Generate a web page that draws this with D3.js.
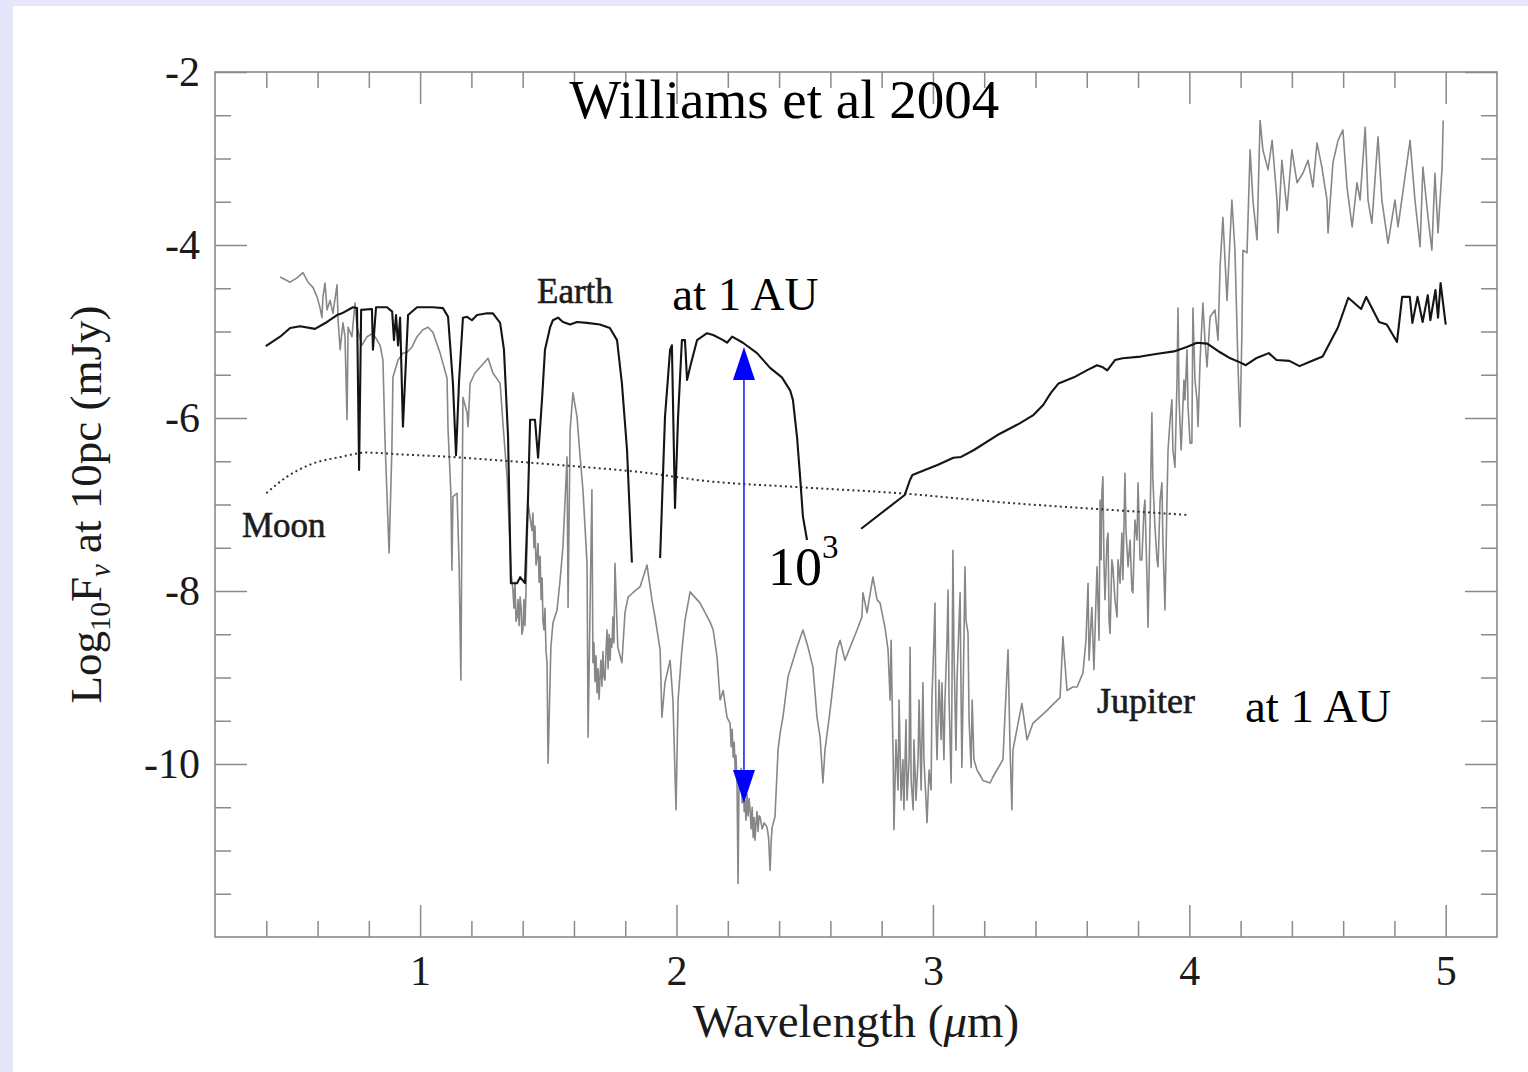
<!DOCTYPE html>
<html>
<head>
<meta charset="utf-8">
<script src="https://cdn.jsdelivr.net/npm/d3@7"></script>
<style>
  body { margin: 0; background: #e6e6fa; }
  svg { display: block; }
</style>
</head>
<body>
<svg id="chart" width="1528" height="1072"></svg>
<script>
// ---- Spectra: wavelength (micron) and log10 F_nu at 10 pc (mJy) ----

// Earth, visible to H band (ends in the 1.87 micron water band)
const earthVisWl = [0.398,0.454,0.493,0.532,0.590,0.637,0.676,0.695,0.738,0.754,0.762,0.770,0.812,0.816,0.828,0.871,0.891,0.898,0.906,0.914,0.922,0.933,0.953,0.988,1.050,1.089,1.109,1.128,1.140,1.152,1.167,1.183,1.202,1.222,1.261,1.284,1.312,1.327,1.343,1.354,1.378,1.390,1.409,1.421,1.429,1.448,1.460,1.476,1.487,1.507,1.518,1.538,1.557,1.585,1.612,1.651,1.701,1.740,1.768,1.787,1.807,1.826];
const earthVisFlux = [-5.17,-5.06,-4.96,-4.94,-4.97,-4.89,-4.81,-4.79,-4.72,-4.73,-6.60,-4.75,-4.74,-5.21,-4.72,-4.72,-4.77,-5.10,-4.81,-5.16,-4.84,-6.10,-4.81,-4.72,-4.72,-4.73,-4.83,-5.60,-6.43,-5.56,-4.84,-4.83,-4.87,-4.81,-4.79,-4.79,-4.90,-5.21,-6.22,-7.91,-7.91,-7.84,-7.91,-6.91,-6.02,-6.02,-6.46,-5.76,-5.21,-4.95,-4.87,-4.84,-4.89,-4.92,-4.89,-4.90,-4.92,-4.96,-5.10,-5.60,-6.37,-7.67];

// Earth, K band
const earthKWl = [1.936,1.955,1.975,1.982,1.994,2.006,2.021,2.033,2.041,2.053,2.080,2.119,2.143,2.182,2.197,2.217,2.259,2.314,2.365,2.411,2.443,2.454,2.470,2.482,2.493,2.509];
const earthKFlux = [-7.62,-5.99,-5.21,-5.16,-7.04,-5.99,-5.10,-5.10,-5.56,-5.41,-5.10,-5.02,-5.04,-5.10,-5.13,-5.06,-5.13,-5.25,-5.42,-5.53,-5.68,-5.79,-6.22,-6.68,-7.14,-7.41];

// Earth, thermal IR
const earthMirWl = [2.72,2.89,2.91,2.92,3.02,3.08,3.11,3.16,3.25,3.34,3.39,3.43,3.46,3.49,3.55,3.60,3.64,3.66,3.68,3.71,3.74,3.81,3.87,3.94,3.99,4.03,4.07,4.12,4.16,4.20,4.22,4.26,4.31,4.34,4.39,4.43,4.47,4.52,4.58,4.62,4.67,4.69,4.74,4.77,4.81,4.83,4.86,4.87,4.89,4.91,4.93,4.94,4.96,4.97,4.98,5.00];
const earthMirFlux = [-7.28,-6.89,-6.72,-6.66,-6.54,-6.46,-6.45,-6.37,-6.20,-6.06,-5.97,-5.85,-5.71,-5.60,-5.53,-5.45,-5.39,-5.41,-5.45,-5.33,-5.31,-5.29,-5.26,-5.23,-5.18,-5.13,-5.14,-5.24,-5.31,-5.36,-5.39,-5.31,-5.25,-5.33,-5.34,-5.40,-5.35,-5.29,-4.95,-4.61,-4.74,-4.60,-4.89,-4.92,-5.12,-4.60,-4.60,-4.90,-4.60,-4.89,-4.58,-4.87,-4.52,-4.84,-4.44,-4.92];

// Moon
const moonWl = [0.40,0.48,0.57,0.69,0.79,0.92,1.12,1.31,1.57,1.90,2.09,2.48,2.87,3.29,3.68,3.99];
const moonFlux = [-6.87,-6.68,-6.54,-6.45,-6.40,-6.42,-6.45,-6.49,-6.55,-6.64,-6.72,-6.80,-6.87,-6.98,-7.06,-7.12];

// Jupiter, [wavelength, log flux] by band
const jupiterOptical = [[0.454,-4.37],[0.493,-4.43],[0.520,-4.38],[0.543,-4.32],[0.563,-4.43],[0.582,-4.49],[0.598,-4.60],[0.610,-4.73],[0.617,-4.84],[0.621,-4.60],[0.629,-4.44],[0.637,-4.75],[0.649,-4.64],[0.660,-4.79],[0.676,-4.46],[0.680,-4.87],[0.688,-5.21],[0.699,-4.90],[0.707,-5.06],[0.715,-6.02],[0.719,-4.95],[0.734,-5.06],[0.746,-4.67],[0.754,-4.95],[0.773,-5.16],[0.793,-5.06],[0.816,-5.02],[0.844,-5.16],[0.855,-5.33],[0.863,-6.25],[0.879,-7.56],[0.890,-6.34],[0.894,-5.53],[0.914,-5.33],[0.933,-5.25],[0.949,-5.24],[0.968,-5.18],[0.988,-5.06],[1.011,-4.98],[1.031,-4.95],[1.050,-5.01],[1.078,-5.25],[1.105,-5.54],[1.109,-6.14],[1.120,-6.87],[1.124,-7.76],[1.128,-6.91],[1.144,-6.87],[1.152,-7.68],[1.159,-9.03],[1.163,-7.30],[1.167,-5.76],[1.183,-5.94],[1.187,-6.10],[1.195,-5.60],[1.214,-5.48],[1.241,-5.39],[1.265,-5.31],[1.284,-5.48],[1.312,-5.60],[1.323,-6.06]];
const jupiterJH = [[1.339,-6.68],[1.351,-7.49],[1.355,-7.80],[1.362,-7.99],[1.366,-8.20],[1.370,-7.90],[1.374,-8.35],[1.378,-8.30],[1.382,-8.10],[1.386,-8.40],[1.390,-8.07],[1.394,-8.20],[1.397,-8.50],[1.401,-8.45],[1.405,-8.10],[1.409,-8.40],[1.413,-7.99],[1.421,-6.98],[1.436,-7.30],[1.440,-7.10],[1.444,-7.50],[1.448,-7.25],[1.452,-7.70],[1.456,-7.61],[1.460,-7.45],[1.464,-7.90],[1.468,-7.60],[1.472,-8.10],[1.476,-7.85],[1.479,-8.34],[1.483,-8.45],[1.487,-8.20],[1.491,-8.70],[1.495,-8.83],[1.499,-9.99],[1.510,-8.65],[1.518,-8.37],[1.534,-8.22],[1.546,-7.87],[1.557,-7.49],[1.573,-6.45],[1.577,-8.19],[1.585,-6.14],[1.596,-5.71],[1.612,-5.99],[1.624,-6.45],[1.635,-6.83],[1.651,-7.68],[1.655,-9.69],[1.670,-6.83],[1.674,-8.83],[1.678,-8.60],[1.682,-9.05],[1.686,-8.75],[1.690,-9.18],[1.694,-8.90],[1.698,-9.25],[1.701,-9.03],[1.705,-8.80],[1.709,-9.10],[1.713,-8.70],[1.717,-9.00],[1.721,-9.03],[1.725,-8.70],[1.729,-8.45],[1.733,-8.90],[1.737,-8.50],[1.741,-8.80],[1.744,-8.55],[1.748,-8.65],[1.752,-8.30],[1.756,-8.60],[1.760,-7.68],[1.771,-8.65],[1.787,-8.83],[1.799,-8.25],[1.811,-8.07],[1.830,-8.02],[1.858,-7.95],[1.885,-7.70]];
const jupiterK = [[1.904,-8.10],[1.916,-8.30],[1.936,-8.68],[1.943,-9.46],[1.955,-9.06],[1.975,-8.80],[1.986,-9.26],[1.998,-10.53],[2.006,-9.26],[2.021,-8.68],[2.033,-8.34],[2.053,-8.01],[2.092,-8.14],[2.131,-8.36],[2.143,-8.45],[2.158,-8.76],[2.170,-9.26],[2.182,-9.15],[2.197,-9.46],[2.209,-9.53],[2.213,-9.80],[2.217,-9.60],[2.221,-9.92],[2.225,-9.75],[2.229,-10.10],[2.232,-9.90],[2.236,-10.22],[2.240,-11.38],[2.244,-10.15],[2.248,-10.30],[2.252,-10.05],[2.256,-10.45],[2.260,-10.20],[2.264,-10.55],[2.267,-10.42],[2.271,-10.65],[2.275,-10.35],[2.279,-10.60],[2.283,-10.40],[2.287,-10.53],[2.291,-10.75],[2.295,-10.50],[2.299,-10.85],[2.303,-10.62],[2.306,-10.88],[2.310,-10.70],[2.314,-10.55],[2.318,-10.78],[2.322,-10.60],[2.326,-10.61],[2.334,-10.75],[2.342,-10.68],[2.353,-10.73],[2.359,-10.85],[2.365,-11.23],[2.369,-10.90],[2.373,-10.73],[2.384,-10.61],[2.396,-9.84],[2.404,-9.64],[2.415,-9.46],[2.435,-8.99],[2.470,-8.65],[2.493,-8.45],[2.513,-8.65],[2.532,-8.88],[2.548,-9.46],[2.560,-9.69],[2.571,-10.22],[2.579,-9.84],[2.599,-9.38],[2.626,-8.68],[2.638,-8.57],[2.657,-8.80],[2.677,-8.65],[2.704,-8.45],[2.723,-8.30],[2.727,-8.02],[2.743,-8.25],[2.766,-7.84],[2.782,-8.10],[2.794,-8.14],[2.813,-8.42]];
const jupiterL1 = [[2.825,-8.68],[2.833,-9.26],[2.837,-8.57],[2.845,-9.95],[2.848,-10.76],[2.856,-9.72],[2.864,-10.30],[2.868,-9.26],[2.876,-10.42],[2.883,-9.95],[2.887,-10.53],[2.895,-9.49],[2.899,-10.42],[2.907,-9.95],[2.911,-8.65],[2.915,-10.19],[2.923,-10.53],[2.926,-9.72],[2.934,-10.42],[2.942,-9.95],[2.946,-9.26],[2.954,-10.30],[2.961,-9.06],[2.965,-9.95],[2.973,-10.42],[2.977,-10.68],[2.985,-10.07],[2.993,-10.30],[2.996,-9.26],[3.004,-8.57],[3.008,-8.14],[3.012,-9.49],[3.016,-9.95],[3.024,-9.03],[3.032,-9.72],[3.035,-9.06],[3.043,-9.95],[3.047,-9.26],[3.055,-8.57],[3.059,-7.99],[3.063,-9.26],[3.071,-10.22],[3.074,-9.26],[3.078,-7.53],[3.082,-8.68],[3.090,-9.84],[3.094,-9.03],[3.102,-8.34],[3.106,-8.02],[3.110,-9.26],[3.113,-10.04],[3.121,-8.57],[3.125,-7.72],[3.129,-8.34],[3.137,-8.49],[3.141,-9.49],[3.149,-10.04],[3.153,-9.26],[3.160,-9.95],[3.172,-10.07],[3.184,-10.13],[3.195,-10.19]];
const jupiterL2 = [[3.223,-10.22],[3.234,-10.15],[3.273,-9.95],[3.293,-8.68],[3.301,-9.84],[3.308,-10.53],[3.312,-9.84],[3.347,-9.30],[3.367,-9.72],[3.390,-9.53],[3.445,-9.38],[3.496,-9.23],[3.507,-8.53],[3.523,-9.15],[3.546,-9.11],[3.562,-9.11],[3.585,-8.95]];
const jupiterL3 = [[3.597,-8.57],[3.605,-7.91],[3.609,-8.80],[3.617,-8.34],[3.620,-8.19],[3.628,-8.91],[3.636,-8.10],[3.640,-7.72],[3.648,-8.57],[3.652,-6.95],[3.656,-7.64],[3.659,-6.87],[3.663,-6.68],[3.667,-7.64],[3.671,-8.10],[3.679,-7.41],[3.683,-7.33],[3.687,-8.34],[3.691,-8.49],[3.698,-7.64],[3.702,-7.72],[3.710,-8.10],[3.718,-8.30],[3.722,-7.64],[3.730,-7.91],[3.737,-7.33],[3.741,-7.87],[3.749,-6.64],[3.753,-7.30],[3.761,-7.72],[3.769,-7.41],[3.776,-7.99],[3.780,-8.02],[3.788,-7.18],[3.796,-7.41],[3.800,-6.75],[3.808,-7.64],[3.815,-7.64],[3.823,-7.06],[3.827,-6.95],[3.835,-7.87],[3.839,-8.42],[3.847,-7.18],[3.854,-5.94],[3.858,-6.72],[3.866,-7.26],[3.874,-7.64],[3.878,-7.72],[3.886,-6.95],[3.893,-6.75],[3.897,-7.41],[3.905,-8.22],[3.913,-6.95],[3.917,-6.37],[3.925,-6.02],[3.932,-5.79],[3.936,-6.37],[3.944,-6.57],[3.952,-5.56],[3.956,-4.73],[3.960,-5.79],[3.968,-6.37],[3.971,-6.17],[3.979,-5.56],[3.983,-5.79],[3.991,-5.21],[3.995,-5.87],[4.003,-6.29],[4.010,-6.29],[4.014,-4.73],[4.022,-5.56],[4.030,-5.79],[4.034,-6.10],[4.042,-5.33],[4.053,-4.67],[4.061,-5.10],[4.069,-5.41],[4.081,-4.83]];
const jupiterM = [[4.100,-4.75],[4.112,-5.10],[4.120,-4.25],[4.131,-3.68],[4.147,-4.64],[4.166,-3.48],[4.178,-4.06],[4.190,-5.41],[4.198,-6.10],[4.205,-5.02],[4.209,-4.06],[4.225,-4.09],[4.237,-2.90],[4.248,-3.48],[4.264,-3.94],[4.276,-2.56],[4.287,-2.90],[4.307,-3.13],[4.323,-2.79],[4.342,-3.48],[4.346,-3.86],[4.361,-3.02],[4.381,-3.60],[4.400,-2.90],[4.420,-3.28],[4.443,-3.17],[4.463,-3.02],[4.482,-3.33],[4.498,-2.82],[4.517,-3.10],[4.537,-3.48],[4.541,-3.86],[4.560,-3.05],[4.580,-2.79],[4.599,-2.67],[4.615,-3.33],[4.635,-3.79],[4.654,-3.28],[4.666,-3.48],[4.686,-2.64],[4.697,-3.48],[4.712,-3.75],[4.736,-2.75],[4.751,-3.48],[4.775,-3.98],[4.802,-3.48],[4.814,-3.79],[4.861,-2.79],[4.880,-3.48],[4.900,-4.02],[4.911,-3.10],[4.931,-3.68],[4.946,-4.06],[4.958,-3.17],[4.970,-3.86],[4.986,-3.10],[4.990,-2.56]];

// Contrast arrow between Earth and Jupiter near 2.26 micron
const arrowWl = [2.263];
const arrowFlux = [-5.18, -10.45];

// Axis ticks
const xTickLabels = [1, 2, 3, 4, 5];
const xMinorTicks = [0.4,0.6,0.8,1.2,1.4,1.6,1.8,2.2,2.4,2.6,2.8,3.2,3.4,3.6,3.8,4.2,4.4,4.6,4.8];
const yTickLabels = [-2, -4, -6, -8, -10];
const yMinorTicks = [-2.5,-3,-3.5,-4.5,-5,-5.5,-6.5,-7,-7.5,-8.5,-9,-9.5,-10.5,-11,-11.5];

// ---- Layout ----
const W = 1528, H = 1072;
const plot = { left: 215, right: 1497, top: 72, bottom: 937 };
const serif = '"Liberation Serif", "Times New Roman", Times, serif';
const axisGray = "#8a8a8a";

const svg = d3.select("#chart");
svg.append("rect").attr("width", W).attr("height", H).attr("fill", "#e6e6fa");
svg.append("rect").attr("x", 13).attr("y", 6).attr("width", W - 13).attr("height", H - 6).attr("fill", "#ffffff");

const x = d3.scaleLinear().domain([0.2, 5.2]).range([plot.left, plot.right]);
const y = d3.scaleLinear().domain([-12, -2]).range([plot.bottom, plot.top]);

const zip = (a, b) => a.slice(0, Math.min(a.length, b.length)).map((v, i) => [v, b[i]]);
const line = d3.line().x(d => x(d[0])).y(d => y(d[1]));

// ---- Axes: inward ticks on all four sides ----
function styleAxis(g) {
  g.select(".domain").remove();
  g.selectAll(".tick line").attr("stroke", axisGray).attr("stroke-width", 1.5);
  g.selectAll(".tick text")
    .attr("font-family", serif).attr("font-size", 42).attr("fill", "#1a1a1a");
}

const fmt = d => String(d);

svg.append("g").attr("transform", `translate(0,${plot.bottom})`)
  .call(d3.axisBottom(x).tickValues(xTickLabels).tickSize(-32).tickSizeOuter(0).tickPadding(18).tickFormat(fmt))
  .call(styleAxis);
svg.append("g").attr("transform", `translate(0,${plot.bottom})`)
  .call(d3.axisBottom(x).tickValues(xMinorTicks).tickSize(-16).tickSizeOuter(0).tickFormat(""))
  .call(styleAxis);
svg.append("g").attr("transform", `translate(0,${plot.top})`)
  .call(d3.axisTop(x).tickValues(xTickLabels).tickSize(-32).tickSizeOuter(0).tickFormat(""))
  .call(styleAxis);
svg.append("g").attr("transform", `translate(0,${plot.top})`)
  .call(d3.axisTop(x).tickValues(xMinorTicks).tickSize(-16).tickSizeOuter(0).tickFormat(""))
  .call(styleAxis);

svg.append("g").attr("transform", `translate(${plot.left},0)`)
  .call(d3.axisLeft(y).tickValues(yTickLabels).tickSize(-32).tickSizeOuter(0).tickPadding(15).tickFormat(fmt))
  .call(styleAxis);
svg.append("g").attr("transform", `translate(${plot.left},0)`)
  .call(d3.axisLeft(y).tickValues(yMinorTicks).tickSize(-16).tickSizeOuter(0).tickFormat(""))
  .call(styleAxis);
svg.append("g").attr("transform", `translate(${plot.right},0)`)
  .call(d3.axisRight(y).tickValues(yTickLabels).tickSize(-32).tickSizeOuter(0).tickFormat(""))
  .call(styleAxis);
svg.append("g").attr("transform", `translate(${plot.right},0)`)
  .call(d3.axisRight(y).tickValues(yMinorTicks).tickSize(-16).tickSizeOuter(0).tickFormat(""))
  .call(styleAxis);

// Frame
svg.append("rect")
  .attr("x", plot.left).attr("y", plot.top)
  .attr("width", plot.right - plot.left).attr("height", plot.bottom - plot.top)
  .attr("fill", "none").attr("stroke", axisGray).attr("stroke-width", 1.6);

// ---- Spectra ----
const curves = svg.append("g").attr("fill", "none").attr("stroke-linejoin", "round");

const jupiter = [].concat(jupiterOptical, jupiterJH, jupiterK, jupiterL1, jupiterL2, jupiterL3, jupiterM);
curves.append("path").datum(jupiter)
  .attr("d", line).attr("stroke", "#878787").attr("stroke-width", 1.6);

curves.append("path").datum(zip(moonWl, moonFlux))
  .attr("d", d3.line().curve(d3.curveMonotoneX).x(d => x(d[0])).y(d => y(d[1])))
  .attr("stroke", "#333").attr("stroke-width", 2).attr("stroke-dasharray", "2 3.2");

[[earthVisWl, earthVisFlux], [earthKWl, earthKFlux], [earthMirWl, earthMirFlux]].forEach(([wl, fl]) => {
  curves.append("path").datum(zip(wl, fl))
    .attr("d", line).attr("stroke", "#141414").attr("stroke-width", 2.1);
});

// ---- Contrast arrow ----
const ax = x(arrowWl[0]);
const yTop = y(arrowFlux[0]);
const yBot = y(arrowFlux[1]);
const headLen = 33, headHalf = 11;
const arrow = svg.append("g");
arrow.append("line")
  .attr("x1", ax).attr("x2", ax).attr("y1", yTop + headLen).attr("y2", yBot - headLen)
  .attr("stroke", "#1f1fff").attr("stroke-width", 1.6);
arrow.append("path")
  .attr("d", `M${ax},${yTop} L${ax - headHalf},${yTop + headLen} L${ax + headHalf},${yTop + headLen} Z`)
  .attr("fill", "#0000ff");
arrow.append("path")
  .attr("d", `M${ax},${yBot} L${ax - headHalf},${yBot - headLen} L${ax + headHalf},${yBot - headLen} Z`)
  .attr("fill", "#0000ff");

// ---- Labels ----
function label(txt, px, py, size, opts = {}) {
  const t = svg.append("text")
    .attr("x", px).attr("y", py)
    .attr("font-family", serif).attr("font-size", size)
    .attr("fill", opts.fill || "#000")
    .attr("text-anchor", opts.anchor || "start")
    .text(txt);
  if (opts.heavy) t.attr("stroke", opts.fill).attr("stroke-width", 0.6);
  return t;
}

label("Williams et al 2004", x(2.42), y(-2.53), 55, { anchor: "middle" });
label("Earth", x(1.456), y(-4.67), 35, { fill: "#1c1c1c", heavy: true });
label("at 1 AU", x(1.983), y(-4.75), 47);
label("Moon", x(0.305), y(-7.38), 35, { fill: "#1c1c1c", heavy: true });
label("Jupiter", x(3.64), y(-9.41), 36, { fill: "#1c1c1c", heavy: true });
label("at 1 AU", x(4.217), y(-9.51), 47);

const pow = svg.append("text")
  .attr("x", x(2.357)).attr("y", y(-7.93))
  .attr("font-family", serif).attr("font-size", 54).attr("fill", "#000");
pow.append("tspan").text("10");
pow.append("tspan").attr("font-size", 33).attr("dy", -27).text("3");

// Axis titles
const xTitle = svg.append("text")
  .attr("x", (plot.left + plot.right) / 2).attr("y", 1037)
  .attr("text-anchor", "middle")
  .attr("font-family", serif).attr("font-size", 47).attr("fill", "#1a1a1a");
xTitle.append("tspan").text("Wavelength (");
xTitle.append("tspan").attr("font-style", "italic").text("\u03bc");
xTitle.append("tspan").text("m)");

const yTitle = svg.append("text")
  .attr("transform", `translate(101,${(plot.top + plot.bottom) / 2}) rotate(-90)`)
  .attr("text-anchor", "middle")
  .attr("font-family", serif).attr("font-size", 45).attr("fill", "#1a1a1a");
yTitle.append("tspan").text("Log");
yTitle.append("tspan").attr("font-size", 29).attr("dy", 9).text("10");
yTitle.append("tspan").attr("dy", -9).text("F");
yTitle.append("tspan").attr("font-size", 29).attr("font-style", "italic").attr("dy", 9).text("\u03bd");
yTitle.append("tspan").attr("dy", -9).text(" at 10pc (mJy)");
</script>
</body>
</html>
